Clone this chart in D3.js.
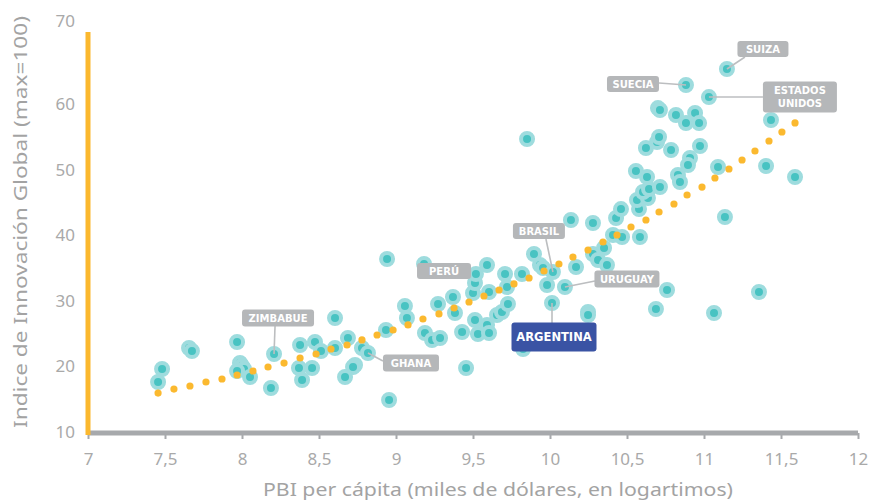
<!DOCTYPE html>
<html>
<head>
  <meta charset="utf-8">
  <title>Innovación y PBI per cápita</title>
  <script src="https://d3js.org/d3.v7.min.js"></script>
  <style>
    body { margin: 0; background: #fff; }
    svg text { font-family: "Noto Sans", "DejaVu Sans", sans-serif; }
    svg text.lbl { font-family: "DejaVu Sans", sans-serif; }
  </style>
</head>
<body>
<svg class="chart"></svg>
<script>

// Country points: PBI per cápita (log) and Indice de Innovación Global
const gdp = [7.455, 7.481, 7.656, 7.675, 7.968, 7.987, 8.000, 8.013, 7.968, 8.052,
  8.188, 8.208, 8.377, 8.370, 8.390, 8.455, 8.474, 8.513, 8.604, 8.604,
  8.688, 8.734, 8.721, 8.669, 8.779, 8.818, 8.935, 8.942, 8.955, 9.058,
  9.071, 9.188, 9.234, 9.286, 9.273, 9.370, 9.383, 9.429, 9.455, 9.182,
  9.500, 9.513, 9.519, 9.591, 9.604, 9.656, 9.688, 9.727, 9.708, 9.721,
  9.818, 9.513, 9.591, 9.532, 9.604, 9.896, 9.935, 9.955, 10.019, 9.981,
  10.097, 10.013, 9.825, 10.136, 10.169, 10.247, 10.247, 10.279, 10.279, 10.312,
  10.351, 10.370, 10.409, 10.429, 10.461, 10.468, 10.584, 10.578, 10.565, 10.636,
  10.604, 10.643, 10.714, 10.558, 10.630, 10.831, 10.844, 10.623, 10.695, 10.708,
  10.786, 10.974, 10.909, 10.896, 11.091, 11.403, 11.591, 10.701, 10.714, 10.818,
  10.942, 10.883, 10.968, 11.435, 10.883, 11.032, 11.149, 9.851, 11.136, 10.760,
  10.688, 11.065, 11.357];
const innovation = [17.63, 19.62, 22.82, 22.37, 23.74, 20.53, 20.08, 19.62, 19.31, 18.40,
  16.72, 21.91, 23.28, 19.77, 17.94, 19.77, 23.74, 22.37, 22.82, 27.40,
  24.35, 20.23, 19.92, 18.40, 22.82, 22.06, 25.57, 36.41, 14.89, 29.24,
  27.40, 25.11, 24.05, 24.35, 29.54, 30.61, 28.17, 25.27, 19.77, 35.65,
  31.22, 32.75, 34.12, 35.50, 31.37, 27.86, 28.32, 29.54, 34.12, 32.14,
  34.12, 27.10, 26.34, 24.96, 25.11, 37.18, 35.50, 35.04, 34.43, 32.44,
  32.14, 29.69, 22.67, 42.37, 35.19, 28.32, 27.86, 41.91, 37.18, 36.26,
  38.09, 35.50, 40.08, 42.67, 44.04, 39.77, 39.77, 44.04, 45.42, 45.72,
  46.64, 47.10, 47.40, 49.85, 48.93, 49.24, 48.17, 53.36, 54.27, 55.04,
  53.05, 53.66, 51.83, 50.76, 50.46, 50.61, 48.93, 59.46, 59.16, 58.40,
  58.70, 57.17, 57.17, 57.63, 62.98, 61.14, 65.42, 54.73, 42.82, 31.68,
  28.78, 28.17, 31.37];

// Trend (yellow dotted)
const trendX = [7.455, 7.558, 7.662, 7.766, 7.870, 7.968, 8.071, 8.169, 8.273, 8.377,
  8.481, 8.578, 8.682, 8.779, 8.877, 8.981, 9.078, 9.175, 9.279, 9.377,
  9.474, 9.571, 9.669, 9.766, 9.864, 9.961, 10.058, 10.149, 10.247, 10.344,
  10.435, 10.526, 10.623, 10.708, 10.805, 10.890, 10.987, 11.071, 11.162, 11.247,
  11.331, 11.422, 11.506, 11.591];
const trendY = [15.95, 16.56, 17.02, 17.63, 18.09, 18.70, 19.31, 19.92, 20.53, 21.30,
  21.91, 22.67, 23.28, 24.05, 24.81, 25.57, 26.34, 27.25, 28.02, 28.93,
  29.85, 30.76, 31.68, 32.60, 33.51, 34.58, 35.65, 36.72, 37.79, 39.01,
  40.08, 41.30, 42.37, 43.59, 44.81, 46.18, 47.40, 48.78, 50.15, 51.53,
  52.90, 54.43, 55.80, 57.18];

// Highlighted countries
const labelNames = [["SUIZA"], ["SUECIA"], ["ESTADOS", "UNIDOS"], ["BRASIL"], ["PERÚ"],
  ["URUGUAY"], ["ARGENTINA"], ["ZIMBABUE"], ["GHANA"]];
const labelGdp = [11.149, 10.883, 11.032, 10.019, 9.182, 10.097, 10.013, 8.208, 8.818];
const labelInnov = [65.42, 62.98, 61.14, 34.43, 35.65, 32.14, 29.69, 21.91, 22.06];

const xTicks = [7, 7.5, 8, 8.5, 9, 9.5, 10, 10.5, 11, 11.5, 12];
const yTicks = [10, 20, 30, 40, 50, 60];

// label box layout: center offset from point, size, leader anchor offset
const labelLayout = [
  {dx: 36, dy: -20, w: 51, h: 16, ax: 18, ay: -12},
  {dx: -53, dy: -1, w: 52, h: 16, ax: -27, ay: -2},
  {dx: 91, dy: 0, w: 74, h: 31, ax: 54, ay: 0},
  {dx: -14, dy: -41, w: 52, h: 16, ax: -7, ay: -33},
  {dx: 20, dy: 7, w: 54, h: 16, ax: null},
  {dx: 62, dy: -8, w: 65, h: 17, ax: 30, ay: -6},
  {dx: 2, dy: 34, w: 85, h: 29, ax: 0, ay: 20, fill: "#3a53a4", size: 11.5},
  {dx: 4, dy: -36, w: 72, h: 17, ax: 1, ay: -28},
  {dx: 43, dy: 10, w: 56, h: 17, ax: 15, ay: 8}
];

const width = 871, height = 500;

const svg = d3.select(".chart")
  .attr("width", width)
  .attr("height", height);

const x = d3.scaleLinear().domain([7, 12]).range([88, 858]);
const y = d3.scaleLinear().domain([10, 60]).range([432, 104.5]);
const yAxisTop = 32;

// X axis
const xAxis = svg.append("g")
  .attr("transform", `translate(0, ${y(10) + 1})`)
  .call(d3.axisBottom(x).tickValues(xTicks).tickSize(6).tickPadding(14)
    .tickFormat(d => String(d).replace(".", ",")));
xAxis.select(".domain").remove();
xAxis.selectAll(".tick line").attr("stroke", "#a7a9ac").attr("stroke-width", 2);
xAxis.selectAll(".tick text").attr("fill", "#a9a9a9").style("font-size", "17px");
svg.append("line")
  .attr("x1", x(7)).attr("x2", x(12))
  .attr("y1", y(10) + 1).attr("y2", y(10) + 1)
  .attr("stroke", "#a7a9ac").attr("stroke-width", 5);

// Y axis
const yAxis = svg.append("g")
  .attr("transform", `translate(${x(7)}, 0)`)
  .call(d3.axisLeft(y).tickValues(yTicks).tickSize(0).tickPadding(13));
yAxis.select(".domain").remove();
yAxis.selectAll(".tick text").attr("fill", "#a9a9a9").style("font-size", "17px");
svg.append("text")
  .attr("x", x(7) - 13).attr("y", yAxisTop - 10)
  .attr("text-anchor", "end").attr("dy", "0.32em")
  .attr("fill", "#a9a9a9").style("font-size", "17px")
  .text("70");
svg.append("line")
  .attr("x1", x(7)).attr("x2", x(7))
  .attr("y1", yAxisTop).attr("y2", y(10) + 3)
  .attr("stroke", "#fbb82e").attr("stroke-width", 5);

// Axis titles
svg.append("text")
  .attr("transform", `translate(27, 222) rotate(-90)`)
  .attr("text-anchor", "middle")
  .attr("fill", "#a3a3a3").style("font-size", "18px")
  .attr("textLength", 412).attr("lengthAdjust", "spacingAndGlyphs")
  .text("Indice de Innovación Global (max=100)");
svg.append("text")
  .attr("x", 498).attr("y", 496)
  .attr("text-anchor", "middle")
  .attr("fill", "#a3a3a3").style("font-size", "18px")
  .attr("textLength", 470).attr("lengthAdjust", "spacingAndGlyphs")
  .text("PBI per cápita (miles de dólares, en logartimos)");

// Country points
svg.append("g").selectAll("circle")
  .data(d3.range(gdp.length))
  .join("circle")
    .attr("cx", i => x(gdp[i]))
    .attr("cy", i => y(innovation[i]))
    .attr("r", 6)
    .attr("fill", "#48c3c2")
    .attr("stroke", "#9edcde")
    .attr("stroke-width", 4);

// Trend dots
svg.append("g").selectAll("circle")
  .data(d3.range(trendX.length))
  .join("circle")
    .attr("cx", i => x(trendX[i]))
    .attr("cy", i => y(trendY[i]))
    .attr("r", 3.6)
    .attr("fill", "#fbb92f");

// Labels
const labels = svg.append("g").selectAll("g")
  .data(d3.range(labelNames.length))
  .join("g")
    .attr("transform", i => `translate(${x(labelGdp[i])}, ${y(labelInnov[i])})`);

labels.filter(i => labelLayout[i].ax !== null)
  .append("line")
    .attr("x1", 0).attr("y1", 0)
    .attr("x2", i => labelLayout[i].ax)
    .attr("y2", i => labelLayout[i].ay)
    .attr("stroke", "#bcbec0").attr("stroke-width", 1.6);

labels.append("rect")
  .attr("x", i => labelLayout[i].dx - labelLayout[i].w / 2)
  .attr("y", i => labelLayout[i].dy - labelLayout[i].h / 2)
  .attr("width", i => labelLayout[i].w)
  .attr("height", i => labelLayout[i].h)
  .attr("rx", 3)
  .attr("fill", i => labelLayout[i].fill || "#b5b7b9");

labels.each(function(i) {
  const L = labelLayout[i];
  const lines = labelNames[i];
  const size = L.size || 10;
  lines.forEach((s, k) => {
    d3.select(this).append("text")
      .attr("class", "lbl")
      .attr("text-anchor", "middle")
      .attr("fill", "#fff")
      .style("font-size", size + "px")
      .style("font-weight", "bold")
      .attr("x", L.dx)
      .attr("y", L.dy + (k - (lines.length - 1) / 2) * 12.5)
      .attr("dy", "0.36em")
      .text(s);
  });
});

</script>
</body>
</html>
